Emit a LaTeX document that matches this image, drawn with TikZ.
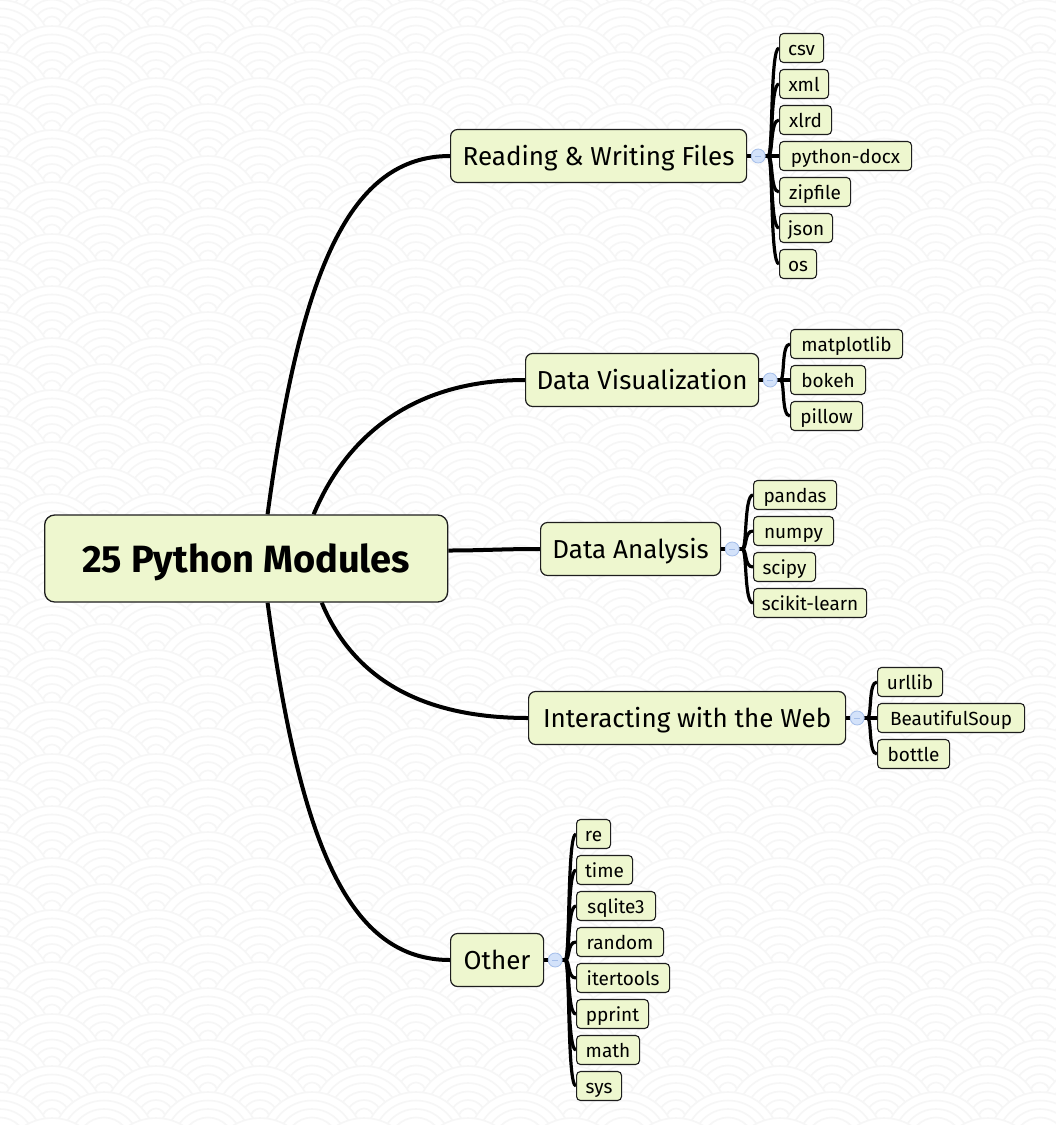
\documentclass[tikz,border=0pt]{standalone}
\usepackage{fontspec}
\setmainfont{Fira Sans}
\usetikzlibrary{calc}
\definecolor{boxfill}{HTML}{EEF7CF}
\definecolor{boxline}{HTML}{1E1E1E}
\definecolor{knobfill}{HTML}{D3E2FA}
\definecolor{knobline}{HTML}{A6BFEA}
\definecolor{wave}{HTML}{F6F6F6}
\pgfdeclarelayer{bg}
\pgfdeclarelayer{links}
\pgfsetlayers{bg,links,main}
\tikzset{
  anybox/.style={draw=boxline, fill=boxfill, inner sep=0pt, anchor=west},
  rootbox/.style={anybox, line width=1.3pt, rounded corners=10pt,
    font=\fontsize{38}{41}\selectfont\bfseries, text height=34pt, text depth=7pt,
    minimum height=87pt},
  topicbox/.style={anybox, line width=1.2pt, rounded corners=7pt,
    font=\fontsize{26}{30}\selectfont, text height=24pt, text depth=5pt,
    minimum height=53pt},
  leafbox/.style={anybox, line width=1.1pt, rounded corners=4pt,
    font=\fontsize{19}{22}\selectfont, text height=17pt, text depth=3pt,
    minimum height=29pt},
  trunk/.style={line width=4pt, black},
  twig/.style={line width=3.2pt, black},
  knob/.style={circle, draw=knobline, fill=knobfill, line width=0.8pt,
    minimum size=14pt, inner sep=0pt},
}
\newcommand\leafbranch[2]{\draw[twig] (#1) .. controls +(5,0) and +(-9,0) .. (#2.west);}
\newcommand\knobat[2]{%
  \node[knob] (#1) at ($(#2.east)+(11,0)$) {};
  \draw[knobline, line width=0.9pt] ($(#1)+(-3,0)$) -- ($(#1)+(3,0)$);}
\begin{document}
\begin{tikzpicture}[x=1pt, y=-1pt]
\useasboundingbox (0,0) rectangle (1056,1125);

% faint wave pattern in the background
\begin{pgfonlayer}{bg}
  \fill[white] (0,0) rectangle (1056,1125);
  \begin{scope}
    \clip (0,0) rectangle (1056,1125);
    \foreach \r in {-1,...,45} {
      \pgfmathsetmacro\off{mod(\r+2,2)*52}
      \foreach \c in {-1,...,11} {
        \foreach \k in {52,43.5,35,26.5,18,9.5} {
          \filldraw[fill=white, draw=wave, line width=1.6pt]
            (\c*104+\off, \r*26) circle (\k);
        }
      }
    }
  \end{scope}
\end{pgfonlayer}

% central topic
\node[rootbox, minimum width=403pt] (root) at (44,558.5) {25 Python Modules};

% main topics
\node[topicbox, minimum width=296pt] (read) at (450,156) {Reading \& Writing Files};
\node[topicbox, minimum width=233pt] (vis)  at (525,380) {Data Visualization};
\node[topicbox, minimum width=180pt] (ana)  at (540,549) {Data Analysis};
\node[topicbox, minimum width=317pt] (web)  at (528,718) {Interacting with the Web};
\node[topicbox, minimum width=93pt]  (oth)  at (450,960) {Other};

% file modules
\node[leafbox, minimum width=44pt]  (csv)   at (779,48)  {csv};
\node[leafbox, minimum width=49pt]  (xml)   at (779,84)  {xml};
\node[leafbox, minimum width=52pt]  (xlrd)  at (779,120) {xlrd};
\node[leafbox, minimum width=132pt] (docx)  at (779,156) {python-docx};
\node[leafbox, minimum width=71pt]  (zip)   at (779,192) {zipfile};
\node[leafbox, minimum width=53pt]  (json)  at (779,228) {json};
\node[leafbox, minimum width=37pt]  (os)    at (779,264) {os};

% visualization modules
\node[leafbox, minimum width=112pt] (mpl)   at (790,344) {matplotlib};
\node[leafbox, minimum width=75pt]  (bokeh) at (790,380) {bokeh};
\node[leafbox, minimum width=72pt]  (pil)   at (790,416) {pillow};

% analysis modules
\node[leafbox, minimum width=83pt]  (pd)    at (753,495) {pandas};
\node[leafbox, minimum width=80pt]  (np)    at (753,531) {numpy};
\node[leafbox, minimum width=62pt]  (sp)    at (753,567) {scipy};
\node[leafbox, minimum width=113pt] (skl)   at (753,603) {scikit-learn};

% web modules
\node[leafbox, minimum width=65pt]  (url)   at (877,682) {urllib};
\node[leafbox, minimum width=147pt] (bs)    at (877,718) {BeautifulSoup};
\node[leafbox, minimum width=72pt]  (bot)   at (877,754) {bottle};

% other modules
\node[leafbox, minimum width=34pt]  (re)    at (576,834)  {re};
\node[leafbox, minimum width=56pt]  (time)  at (576,870)  {time};
\node[leafbox, minimum width=79pt]  (sql)   at (576,906)  {sqlite3};
\node[leafbox, minimum width=87pt]  (rnd)   at (576,942)  {random};
\node[leafbox, minimum width=93pt]  (itt)   at (576,978)  {itertools};
\node[leafbox, minimum width=72pt]  (pp)    at (576,1014) {pprint};
\node[leafbox, minimum width=63pt]  (math)  at (576,1050) {math};
\node[leafbox, minimum width=45pt]  (sys)   at (576,1086) {sys};

\begin{pgfonlayer}{links}
  % central topic to main topics
  \draw[trunk] ($(root.north west)!0.553!(root.north east)$)
    .. controls +(33,-245) and +(-100,0) .. (read.west);
  \draw[trunk] ($(root.north west)!0.667!(root.north east)$)
    .. controls +(27,-65) and +(-125,0) .. (vis.west);
  \draw[trunk] ($(root.east)+(0,-8)$)
    .. controls +(35,0) and +(-40,0) .. (ana.west);
  \draw[trunk] ($(root.south west)!0.687!(root.south east)$)
    .. controls +(27,65) and +(-120,0) .. (web.west);
  \draw[trunk] ($(root.south west)!0.553!(root.south east)$)
    .. controls +(33,245) and +(-100,0) .. (oth.west);

  % main topics to their modules
  \coordinate (sread) at ($(read.east)+(21,0)$);
  \draw[twig] (read.east) -- (sread);
  \foreach \n in {csv,xml,xlrd,docx,zip,json,os} {\leafbranch{sread}{\n}}

  \coordinate (svis) at ($(vis.east)+(21,0)$);
  \draw[twig] (vis.east) -- (svis);
  \foreach \n in {mpl,bokeh,pil} {\leafbranch{svis}{\n}}

  \coordinate (sana) at ($(ana.east)+(21,0)$);
  \draw[twig] (ana.east) -- (sana);
  \foreach \n in {pd,np,sp,skl} {\leafbranch{sana}{\n}}

  \coordinate (sweb) at ($(web.east)+(21,0)$);
  \draw[twig] (web.east) -- (sweb);
  \foreach \n in {url,bs,bot} {\leafbranch{sweb}{\n}}

  \coordinate (soth) at ($(oth.east)+(21,0)$);
  \draw[twig] (oth.east) -- (soth);
  \foreach \n in {re,time,sql,rnd,itt,pp,math,sys} {\leafbranch{soth}{\n}}
\end{pgfonlayer}

% collapse knobs
\knobat{kread}{read}
\knobat{kvis}{vis}
\knobat{kana}{ana}
\knobat{kweb}{web}
\knobat{koth}{oth}
\end{tikzpicture}
\end{document}
